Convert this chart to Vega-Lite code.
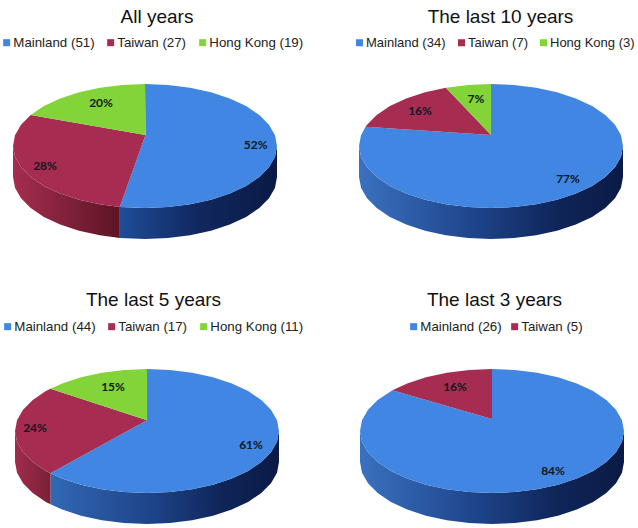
{"$schema":"https://vega.github.io/schema/vega-lite/v6.json","padding":{"left":0,"top":7,"right":0,"bottom":0},"background":"white","bounds":"flush","columns":2,"spacing":{"row":105,"column":0},
"config":{"view":{"stroke":null},"axis":{"domain":false},"font":"Liberation Sans","title":{"font":"Liberation Sans","fontSize":19,"fontWeight":"normal","color":"#111111","offset":9.5},"legend":{"symbolType":"square","symbolSize":49,"symbolStrokeWidth":0,"labelFont":"Liberation Sans","labelFontSize":13.3,"labelColor":"#222222","labelOffset":0,"title":null,"direction":"horizontal","orient":"none","symbolOpacity":1}},
"concat":[
{"title":{"text":"All years","dx":-2.5},"width":319,"height":180,"layer":[
{"data":{"values":[{"x":132,"y":0,"b":-31},{"x":130,"y":-10.8,"b":-41.8},{"x":124,"y":-21.2,"b":-52.2},{"x":114.3,"y":-31,"b":-62},{"x":101.1,"y":-39.9,"b":-70.9},{"x":84.8,"y":-47.5,"b":-78.5},{"x":66,"y":-53.7,"b":-84.7},{"x":45.1,"y":-58.3,"b":-89.3},{"x":22.9,"y":-61.1,"b":-92.1},{"x":0,"y":-62,"b":-93},{"x":-25.2,"y":-60.9,"b":-91.9}]},"mark":{"type":"area","fill":{"gradient":"linear","x1":0,"y1":0,"x2":1,"y2":0,"stops":[{"offset":0,"color":"#1f4d98"},{"offset":0.5,"color":"#10275f"},{"offset":1,"color":"#0a1a45"}]}},"encoding":{"x":{"field":"x","type":"quantitative","scale":{"domain":[-145,174]},"axis":null},"y":{"field":"y","type":"quantitative","scale":{"domain":[-105,75]},"axis":null},"y2":{"field":"b"}}},
{"data":{"values":[{"x":-25.2,"y":-60.9,"b":-91.9},{"x":-45.1,"y":-58.3,"b":-89.3},{"x":-66,"y":-53.7,"b":-84.7},{"x":-84.8,"y":-47.5,"b":-78.5},{"x":-101.1,"y":-39.9,"b":-70.9},{"x":-114.3,"y":-31,"b":-62},{"x":-124,"y":-21.2,"b":-52.2},{"x":-130,"y":-10.8,"b":-41.8},{"x":-132,"y":0,"b":-31}]},"mark":{"type":"area","fill":{"gradient":"linear","x1":0,"y1":0,"x2":1,"y2":0,"stops":[{"offset":0,"color":"#a52d50"},{"offset":1,"color":"#5c1424"}]}},"encoding":{"x":{"field":"x","type":"quantitative","scale":{"domain":[-145,174]},"axis":null},"y":{"field":"y","type":"quantitative","scale":{"domain":[-105,75]},"axis":null},"y2":{"field":"b"}}},
{"data":{"values":[
{"s":"Mainland (51)","i":0,"x":0.5,"y":11},{"s":"Mainland (51)","i":1,"x":0,"y":62},{"s":"Mainland (51)","i":2,"x":22.9,"y":61.1},{"s":"Mainland (51)","i":3,"x":45.1,"y":58.3},{"s":"Mainland (51)","i":4,"x":66,"y":53.7},{"s":"Mainland (51)","i":5,"x":84.8,"y":47.5},{"s":"Mainland (51)","i":6,"x":101.1,"y":39.9},{"s":"Mainland (51)","i":7,"x":114.3,"y":31},{"s":"Mainland (51)","i":8,"x":124,"y":21.2},{"s":"Mainland (51)","i":9,"x":130,"y":10.8},{"s":"Mainland (51)","i":10,"x":132,"y":0},{"s":"Mainland (51)","i":11,"x":130,"y":-10.8},{"s":"Mainland (51)","i":12,"x":124,"y":-21.2},{"s":"Mainland (51)","i":13,"x":114.3,"y":-31},{"s":"Mainland (51)","i":14,"x":101.1,"y":-39.9},{"s":"Mainland (51)","i":15,"x":84.8,"y":-47.5},{"s":"Mainland (51)","i":16,"x":66,"y":-53.7},{"s":"Mainland (51)","i":17,"x":45.1,"y":-58.3},{"s":"Mainland (51)","i":18,"x":22.9,"y":-61.1},{"s":"Mainland (51)","i":19,"x":0,"y":-62},{"s":"Mainland (51)","i":20,"x":-25.2,"y":-60.9},
{"s":"Taiwan (27)","i":0,"x":0.5,"y":11},{"s":"Taiwan (27)","i":1,"x":-25.2,"y":-60.9},{"s":"Taiwan (27)","i":2,"x":-45.1,"y":-58.3},{"s":"Taiwan (27)","i":3,"x":-66,"y":-53.7},{"s":"Taiwan (27)","i":4,"x":-84.8,"y":-47.5},{"s":"Taiwan (27)","i":5,"x":-101.1,"y":-39.9},{"s":"Taiwan (27)","i":6,"x":-114.3,"y":-31},{"s":"Taiwan (27)","i":7,"x":-124,"y":-21.2},{"s":"Taiwan (27)","i":8,"x":-130,"y":-10.8},{"s":"Taiwan (27)","i":9,"x":-132,"y":0},{"s":"Taiwan (27)","i":10,"x":-130,"y":10.8},{"s":"Taiwan (27)","i":11,"x":-124,"y":21.2},{"s":"Taiwan (27)","i":12,"x":-114.3,"y":31},
{"s":"Hong Kong (19)","i":0,"x":0.5,"y":11},{"s":"Hong Kong (19)","i":1,"x":-114.3,"y":31},{"s":"Hong Kong (19)","i":2,"x":-101.1,"y":39.9},{"s":"Hong Kong (19)","i":3,"x":-84.8,"y":47.5},{"s":"Hong Kong (19)","i":4,"x":-66,"y":53.7},{"s":"Hong Kong (19)","i":5,"x":-45.1,"y":58.3},{"s":"Hong Kong (19)","i":6,"x":-22.9,"y":61.1},{"s":"Hong Kong (19)","i":7,"x":0,"y":62}]},
"mark":{"type":"line","strokeWidth":0},"encoding":{"x":{"field":"x","type":"quantitative","scale":{"domain":[-145,174]},"axis":null},"y":{"field":"y","type":"quantitative","scale":{"domain":[-105,75]},"axis":null},"order":{"field":"i"},"fill":{"field":"s","type":"nominal","scale":{"domain":["Mainland (51)","Taiwan (27)","Hong Kong (19)"],"range":["#4186e2","#a62c52","#83d438"]},"legend":{"legendX":0,"legendY":-35,"columns":3,"columnPadding":9}}}},
{"data":{"values":[{"t":"52%","x":110.7,"y":0.7},{"t":"28%","x":-100,"y":-20},{"t":"20%","x":-44,"y":43}]},"mark":{"type":"text","font":"Lato","fontWeight":"bold","fontSize":12,"color":"#101820"},"encoding":{"x":{"field":"x","type":"quantitative","scale":{"domain":[-145,174]},"axis":null},"y":{"field":"y","type":"quantitative","scale":{"domain":[-105,75]},"axis":null},"text":{"field":"t"}}}
],"resolve":{"scale":{"fill":"independent"}}},
{"title":{"text":"The last 10 years","dx":22},"width":319,"height":180,"layer":[
{"data":{"values":[{"x":132,"y":0,"b":-31},{"x":130,"y":-10.8,"b":-41.8},{"x":124,"y":-21.2,"b":-52.2},{"x":114.3,"y":-31,"b":-62},{"x":101.1,"y":-39.9,"b":-70.9},{"x":84.8,"y":-47.5,"b":-78.5},{"x":66,"y":-53.7,"b":-84.7},{"x":45.1,"y":-58.3,"b":-89.3},{"x":22.9,"y":-61.1,"b":-92.1},{"x":0,"y":-62,"b":-93},{"x":-22.9,"y":-61.1,"b":-92.1},{"x":-45.1,"y":-58.3,"b":-89.3},{"x":-66,"y":-53.7,"b":-84.7},{"x":-84.8,"y":-47.5,"b":-78.5},{"x":-101.1,"y":-39.9,"b":-70.9},{"x":-114.3,"y":-31,"b":-62},{"x":-124,"y":-21.2,"b":-52.2},{"x":-130,"y":-10.8,"b":-41.8},{"x":-132,"y":0,"b":-31}]},"mark":{"type":"area","fill":{"gradient":"linear","x1":0,"y1":0,"x2":1,"y2":0,"stops":[{"offset":0,"color":"#3a71c0"},{"offset":0.45,"color":"#1d4388"},{"offset":0.75,"color":"#0f2559"},{"offset":1,"color":"#0a1a45"}]}},"encoding":{"x":{"field":"x","type":"quantitative","scale":{"domain":[-172,147]},"axis":null},"y":{"field":"y","type":"quantitative","scale":{"domain":[-105,75]},"axis":null},"y2":{"field":"b"}}},
{"data":{"values":[
{"s":"Mainland (34)","i":0,"x":0,"y":11},{"s":"Mainland (34)","i":1,"x":0,"y":62},{"s":"Mainland (34)","i":2,"x":22.9,"y":61.1},{"s":"Mainland (34)","i":3,"x":45.1,"y":58.3},{"s":"Mainland (34)","i":4,"x":66,"y":53.7},{"s":"Mainland (34)","i":5,"x":84.8,"y":47.5},{"s":"Mainland (34)","i":6,"x":101.1,"y":39.9},{"s":"Mainland (34)","i":7,"x":114.3,"y":31},{"s":"Mainland (34)","i":8,"x":124,"y":21.2},{"s":"Mainland (34)","i":9,"x":130,"y":10.8},{"s":"Mainland (34)","i":10,"x":132,"y":0},{"s":"Mainland (34)","i":11,"x":130,"y":-10.8},{"s":"Mainland (34)","i":12,"x":124,"y":-21.2},{"s":"Mainland (34)","i":13,"x":114.3,"y":-31},{"s":"Mainland (34)","i":14,"x":101.1,"y":-39.9},{"s":"Mainland (34)","i":15,"x":84.8,"y":-47.5},{"s":"Mainland (34)","i":16,"x":66,"y":-53.7},{"s":"Mainland (34)","i":17,"x":45.1,"y":-58.3},{"s":"Mainland (34)","i":18,"x":22.9,"y":-61.1},{"s":"Mainland (34)","i":19,"x":0,"y":-62},{"s":"Mainland (34)","i":20,"x":-22.9,"y":-61.1},{"s":"Mainland (34)","i":21,"x":-45.1,"y":-58.3},{"s":"Mainland (34)","i":22,"x":-66,"y":-53.7},{"s":"Mainland (34)","i":23,"x":-84.8,"y":-47.5},{"s":"Mainland (34)","i":24,"x":-101.1,"y":-39.9},{"s":"Mainland (34)","i":25,"x":-114.3,"y":-31},{"s":"Mainland (34)","i":26,"x":-124,"y":-21.2},{"s":"Mainland (34)","i":27,"x":-130,"y":-10.8},{"s":"Mainland (34)","i":28,"x":-132,"y":0},{"s":"Mainland (34)","i":29,"x":-130,"y":10.8},{"s":"Mainland (34)","i":30,"x":-125.5,"y":19.2},
{"s":"Taiwan (7)","i":0,"x":0,"y":11},{"s":"Taiwan (7)","i":1,"x":-125.5,"y":19.2},{"s":"Taiwan (7)","i":2,"x":-124,"y":21.2},{"s":"Taiwan (7)","i":3,"x":-114.3,"y":31},{"s":"Taiwan (7)","i":4,"x":-101.1,"y":39.9},{"s":"Taiwan (7)","i":5,"x":-84.8,"y":47.5},{"s":"Taiwan (7)","i":6,"x":-66,"y":53.7},{"s":"Taiwan (7)","i":7,"x":-45.1,"y":58.3},
{"s":"Hong Kong (3)","i":0,"x":0,"y":11},{"s":"Hong Kong (3)","i":1,"x":-45.1,"y":58.3},{"s":"Hong Kong (3)","i":2,"x":-22.9,"y":61.1},{"s":"Hong Kong (3)","i":3,"x":0,"y":62}]},
"mark":{"type":"line","strokeWidth":0},"encoding":{"x":{"field":"x","type":"quantitative","scale":{"domain":[-172,147]},"axis":null},"y":{"field":"y","type":"quantitative","scale":{"domain":[-105,75]},"axis":null},"order":{"field":"i"},"fill":{"field":"s","type":"nominal","scale":{"domain":["Mainland (34)","Taiwan (7)","Hong Kong (3)"],"range":["#4186e2","#a62c52","#83d438"]},"legend":{"legendX":34,"legendY":-35,"columns":3,"columnPadding":9,"labelFontSize":13}}}},
{"data":{"values":[{"t":"77%","x":77,"y":-33},{"t":"16%","x":-71,"y":35},{"t":"7%","x":-15,"y":47}]},"mark":{"type":"text","font":"Lato","fontWeight":"bold","fontSize":12,"color":"#101820"},"encoding":{"x":{"field":"x","type":"quantitative","scale":{"domain":[-172,147]},"axis":null},"y":{"field":"y","type":"quantitative","scale":{"domain":[-105,75]},"axis":null},"text":{"field":"t"}}}
]},
{"title":{"text":"The last 5 years","dx":-6,"dy":-1},"width":319,"height":173,"layer":[
{"data":{"values":[{"x":132,"y":0,"b":-31},{"x":130,"y":-10.8,"b":-41.8},{"x":124,"y":-21.2,"b":-52.2},{"x":114.3,"y":-31,"b":-62},{"x":101.1,"y":-39.9,"b":-70.9},{"x":84.8,"y":-47.5,"b":-78.5},{"x":66,"y":-53.7,"b":-84.7},{"x":45.1,"y":-58.3,"b":-89.3},{"x":22.9,"y":-61.1,"b":-92.1},{"x":0,"y":-62,"b":-93},{"x":-22.9,"y":-61.1,"b":-92.1},{"x":-45.1,"y":-58.3,"b":-89.3},{"x":-66,"y":-53.7,"b":-84.7},{"x":-84.8,"y":-47.5,"b":-78.5},{"x":-96.5,"y":-42.3,"b":-73.3}]},"mark":{"type":"area","fill":{"gradient":"linear","x1":0,"y1":0,"x2":1,"y2":0,"stops":[{"offset":0,"color":"#3268b4"},{"offset":0.45,"color":"#1d4388"},{"offset":0.75,"color":"#0f2559"},{"offset":1,"color":"#0a1a45"}]}},"encoding":{"x":{"field":"x","type":"quantitative","scale":{"domain":[-147,172]},"axis":null},"y":{"field":"y","type":"quantitative","scale":{"domain":[-98,75]},"axis":null},"y2":{"field":"b"}}},
{"data":{"values":[{"x":-96.5,"y":-42.3,"b":-73.3},{"x":-101.1,"y":-39.9,"b":-70.9},{"x":-114.3,"y":-31,"b":-62},{"x":-124,"y":-21.2,"b":-52.2},{"x":-130,"y":-10.8,"b":-41.8},{"x":-132,"y":0,"b":-31}]},"mark":{"type":"area","fill":{"gradient":"linear","x1":0,"y1":0,"x2":1,"y2":0,"stops":[{"offset":0,"color":"#a02c4e"},{"offset":1,"color":"#7a2035"}]}},"encoding":{"x":{"field":"x","type":"quantitative","scale":{"domain":[-147,172]},"axis":null},"y":{"field":"y","type":"quantitative","scale":{"domain":[-98,75]},"axis":null},"y2":{"field":"b"}}},
{"data":{"values":[
{"s":"Mainland (44)","i":0,"x":0,"y":10.7},{"s":"Mainland (44)","i":1,"x":0,"y":62},{"s":"Mainland (44)","i":2,"x":22.9,"y":61.1},{"s":"Mainland (44)","i":3,"x":45.1,"y":58.3},{"s":"Mainland (44)","i":4,"x":66,"y":53.7},{"s":"Mainland (44)","i":5,"x":84.8,"y":47.5},{"s":"Mainland (44)","i":6,"x":101.1,"y":39.9},{"s":"Mainland (44)","i":7,"x":114.3,"y":31},{"s":"Mainland (44)","i":8,"x":124,"y":21.2},{"s":"Mainland (44)","i":9,"x":130,"y":10.8},{"s":"Mainland (44)","i":10,"x":132,"y":0},{"s":"Mainland (44)","i":11,"x":130,"y":-10.8},{"s":"Mainland (44)","i":12,"x":124,"y":-21.2},{"s":"Mainland (44)","i":13,"x":114.3,"y":-31},{"s":"Mainland (44)","i":14,"x":101.1,"y":-39.9},{"s":"Mainland (44)","i":15,"x":84.8,"y":-47.5},{"s":"Mainland (44)","i":16,"x":66,"y":-53.7},{"s":"Mainland (44)","i":17,"x":45.1,"y":-58.3},{"s":"Mainland (44)","i":18,"x":22.9,"y":-61.1},{"s":"Mainland (44)","i":19,"x":0,"y":-62},{"s":"Mainland (44)","i":20,"x":-22.9,"y":-61.1},{"s":"Mainland (44)","i":21,"x":-45.1,"y":-58.3},{"s":"Mainland (44)","i":22,"x":-66,"y":-53.7},{"s":"Mainland (44)","i":23,"x":-84.8,"y":-47.5},{"s":"Mainland (44)","i":24,"x":-96.5,"y":-42.3},
{"s":"Taiwan (17)","i":0,"x":0,"y":10.7},{"s":"Taiwan (17)","i":1,"x":-96.5,"y":-42.3},{"s":"Taiwan (17)","i":2,"x":-101.1,"y":-39.9},{"s":"Taiwan (17)","i":3,"x":-114.3,"y":-31},{"s":"Taiwan (17)","i":4,"x":-124,"y":-21.2},{"s":"Taiwan (17)","i":5,"x":-130,"y":-10.8},{"s":"Taiwan (17)","i":6,"x":-132,"y":0},{"s":"Taiwan (17)","i":7,"x":-130,"y":10.8},{"s":"Taiwan (17)","i":8,"x":-124,"y":21.2},{"s":"Taiwan (17)","i":9,"x":-114.3,"y":31},{"s":"Taiwan (17)","i":10,"x":-101.1,"y":39.9},{"s":"Taiwan (17)","i":11,"x":-96.5,"y":42.3},
{"s":"Hong Kong (11)","i":0,"x":0,"y":10.7},{"s":"Hong Kong (11)","i":1,"x":-96.5,"y":42.3},{"s":"Hong Kong (11)","i":2,"x":-84.8,"y":47.5},{"s":"Hong Kong (11)","i":3,"x":-66,"y":53.7},{"s":"Hong Kong (11)","i":4,"x":-45.1,"y":58.3},{"s":"Hong Kong (11)","i":5,"x":-22.9,"y":61.1},{"s":"Hong Kong (11)","i":6,"x":0,"y":62}]},
"mark":{"type":"line","strokeWidth":0},"encoding":{"x":{"field":"x","type":"quantitative","scale":{"domain":[-147,172]},"axis":null},"y":{"field":"y","type":"quantitative","scale":{"domain":[-98,75]},"axis":null},"order":{"field":"i"},"fill":{"field":"s","type":"nominal","scale":{"domain":["Mainland (44)","Taiwan (17)","Hong Kong (11)"],"range":["#4186e2","#a62c52","#83d438"]},"legend":{"legendX":1,"legendY":-36,"columns":3,"columnPadding":9}}}},
{"data":{"values":[{"t":"61%","x":104,"y":-14},{"t":"24%","x":-112,"y":3},{"t":"15%","x":-34,"y":44}]},"mark":{"type":"text","font":"Lato","fontWeight":"bold","fontSize":12,"color":"#101820"},"encoding":{"x":{"field":"x","type":"quantitative","scale":{"domain":[-147,172]},"axis":null},"y":{"field":"y","type":"quantitative","scale":{"domain":[-98,75]},"axis":null},"text":{"field":"t"}}}
]},
{"title":{"text":"The last 3 years","dx":16,"dy":-1},"width":319,"height":173,"layer":[
{"data":{"values":[{"x":132,"y":0,"b":-31},{"x":130,"y":-10.8,"b":-41.8},{"x":124,"y":-21.2,"b":-52.2},{"x":114.3,"y":-31,"b":-62},{"x":101.1,"y":-39.9,"b":-70.9},{"x":84.8,"y":-47.5,"b":-78.5},{"x":66,"y":-53.7,"b":-84.7},{"x":45.1,"y":-58.3,"b":-89.3},{"x":22.9,"y":-61.1,"b":-92.1},{"x":0,"y":-62,"b":-93},{"x":-22.9,"y":-61.1,"b":-92.1},{"x":-45.1,"y":-58.3,"b":-89.3},{"x":-66,"y":-53.7,"b":-84.7},{"x":-84.8,"y":-47.5,"b":-78.5},{"x":-101.1,"y":-39.9,"b":-70.9},{"x":-114.3,"y":-31,"b":-62},{"x":-124,"y":-21.2,"b":-52.2},{"x":-130,"y":-10.8,"b":-41.8},{"x":-132,"y":0,"b":-31}]},"mark":{"type":"area","fill":{"gradient":"linear","x1":0,"y1":0,"x2":1,"y2":0,"stops":[{"offset":0,"color":"#3a71c0"},{"offset":0.45,"color":"#1d4388"},{"offset":0.75,"color":"#0f2559"},{"offset":1,"color":"#0a1a45"}]}},"encoding":{"x":{"field":"x","type":"quantitative","scale":{"domain":[-173,146]},"axis":null},"y":{"field":"y","type":"quantitative","scale":{"domain":[-98,75]},"axis":null},"y2":{"field":"b"}}},
{"data":{"values":[
{"s":"Mainland (26)","i":0,"x":0,"y":12},{"s":"Mainland (26)","i":1,"x":0,"y":62},{"s":"Mainland (26)","i":2,"x":22.9,"y":61.1},{"s":"Mainland (26)","i":3,"x":45.1,"y":58.3},{"s":"Mainland (26)","i":4,"x":66,"y":53.7},{"s":"Mainland (26)","i":5,"x":84.8,"y":47.5},{"s":"Mainland (26)","i":6,"x":101.1,"y":39.9},{"s":"Mainland (26)","i":7,"x":114.3,"y":31},{"s":"Mainland (26)","i":8,"x":124,"y":21.2},{"s":"Mainland (26)","i":9,"x":130,"y":10.8},{"s":"Mainland (26)","i":10,"x":132,"y":0},{"s":"Mainland (26)","i":11,"x":130,"y":-10.8},{"s":"Mainland (26)","i":12,"x":124,"y":-21.2},{"s":"Mainland (26)","i":13,"x":114.3,"y":-31},{"s":"Mainland (26)","i":14,"x":101.1,"y":-39.9},{"s":"Mainland (26)","i":15,"x":84.8,"y":-47.5},{"s":"Mainland (26)","i":16,"x":66,"y":-53.7},{"s":"Mainland (26)","i":17,"x":45.1,"y":-58.3},{"s":"Mainland (26)","i":18,"x":22.9,"y":-61.1},{"s":"Mainland (26)","i":19,"x":0,"y":-62},{"s":"Mainland (26)","i":20,"x":-22.9,"y":-61.1},{"s":"Mainland (26)","i":21,"x":-45.1,"y":-58.3},{"s":"Mainland (26)","i":22,"x":-66,"y":-53.7},{"s":"Mainland (26)","i":23,"x":-84.8,"y":-47.5},{"s":"Mainland (26)","i":24,"x":-101.1,"y":-39.9},{"s":"Mainland (26)","i":25,"x":-114.3,"y":-31},{"s":"Mainland (26)","i":26,"x":-124,"y":-21.2},{"s":"Mainland (26)","i":27,"x":-130,"y":-10.8},{"s":"Mainland (26)","i":28,"x":-132,"y":0},{"s":"Mainland (26)","i":29,"x":-130,"y":10.8},{"s":"Mainland (26)","i":30,"x":-124,"y":21.2},{"s":"Mainland (26)","i":31,"x":-114.3,"y":31},{"s":"Mainland (26)","i":32,"x":-99.6,"y":40.7},
{"s":"Taiwan (5)","i":0,"x":0,"y":12},{"s":"Taiwan (5)","i":1,"x":-99.6,"y":40.7},{"s":"Taiwan (5)","i":2,"x":-84.8,"y":47.5},{"s":"Taiwan (5)","i":3,"x":-66,"y":53.7},{"s":"Taiwan (5)","i":4,"x":-45.1,"y":58.3},{"s":"Taiwan (5)","i":5,"x":-22.9,"y":61.1},{"s":"Taiwan (5)","i":6,"x":0,"y":62}]},
"mark":{"type":"line","strokeWidth":0},"encoding":{"x":{"field":"x","type":"quantitative","scale":{"domain":[-173,146]},"axis":null},"y":{"field":"y","type":"quantitative","scale":{"domain":[-98,75]},"axis":null},"order":{"field":"i"},"fill":{"field":"s","type":"nominal","scale":{"domain":["Mainland (26)","Taiwan (5)"],"range":["#4186e2","#a62c52"]},"legend":{"legendX":88,"legendY":-36,"columns":2,"columnPadding":6}}}},
{"data":{"values":[{"t":"84%","x":61,"y":-40},{"t":"16%","x":-37,"y":44}]},"mark":{"type":"text","font":"Lato","fontWeight":"bold","fontSize":12,"color":"#101820"},"encoding":{"x":{"field":"x","type":"quantitative","scale":{"domain":[-173,146]},"axis":null},"y":{"field":"y","type":"quantitative","scale":{"domain":[-98,75]},"axis":null},"text":{"field":"t"}}}
]}
],"resolve":{"scale":{"fill":"independent"}}}
